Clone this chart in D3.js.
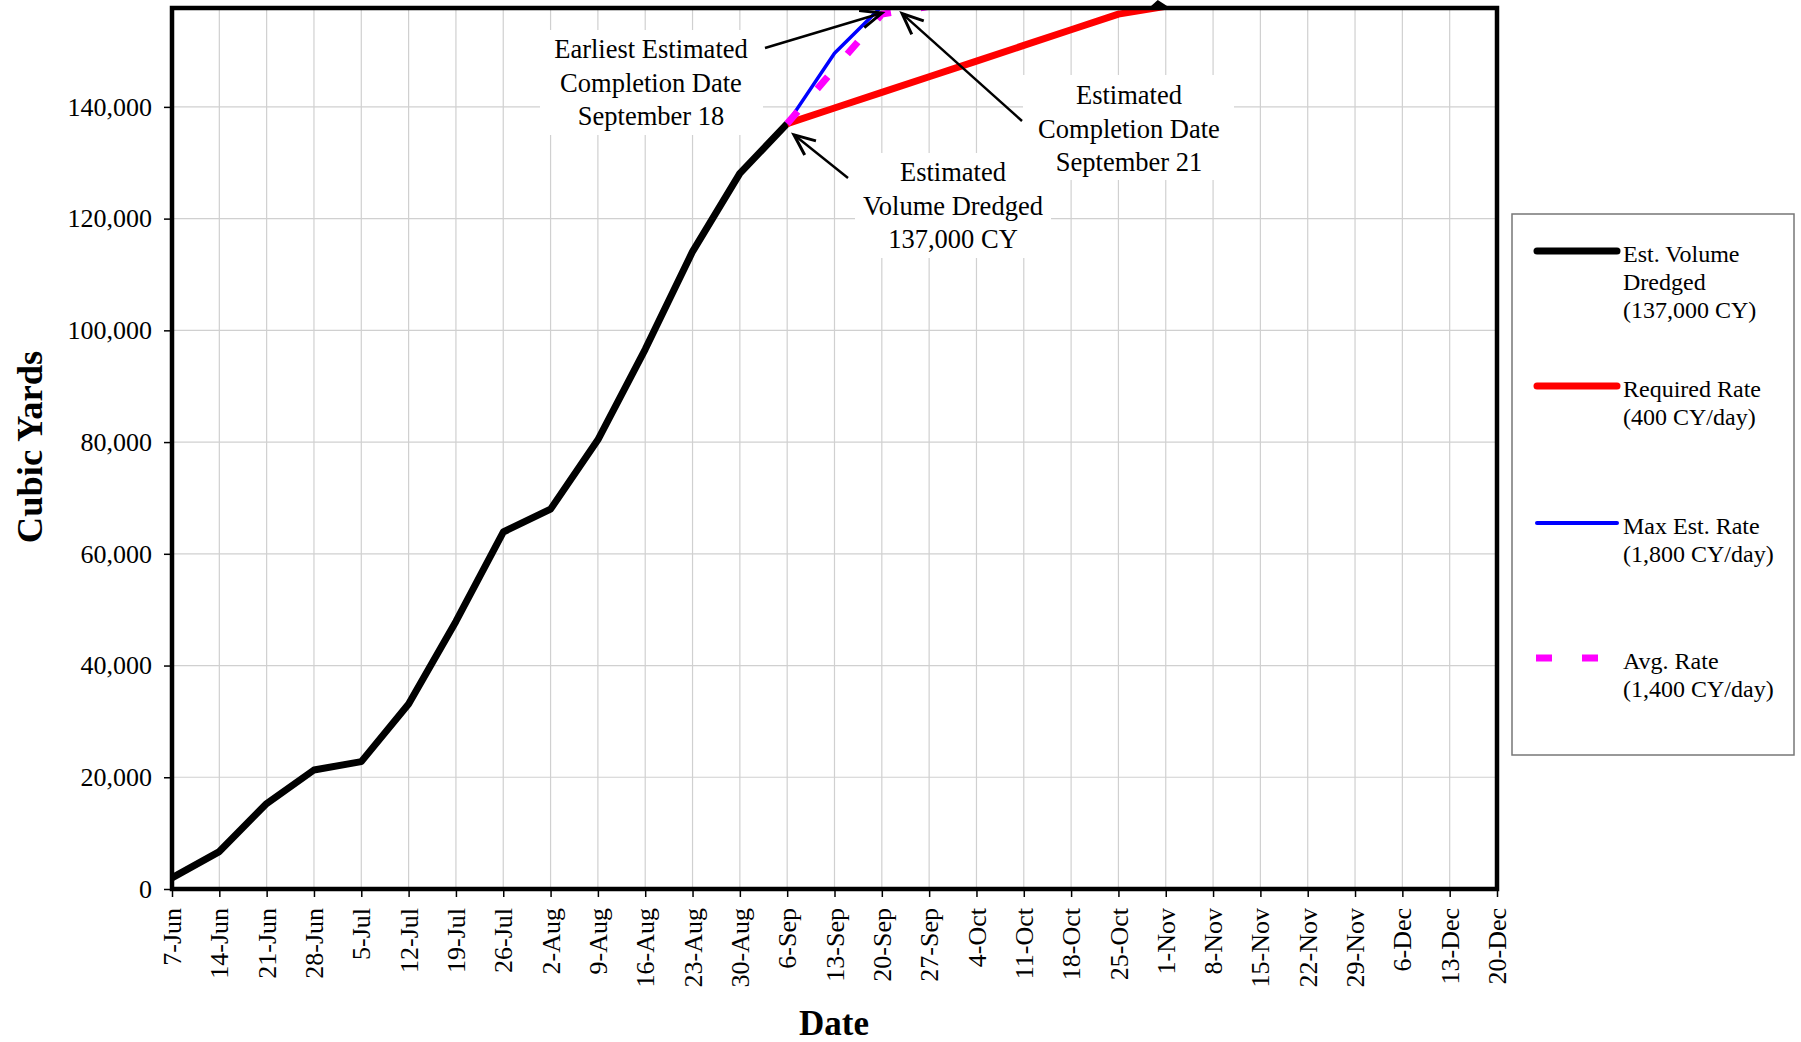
<!DOCTYPE html>
<html>
<head>
<meta charset="utf-8">
<script src="https://cdn.jsdelivr.net/npm/d3@7"></script>
<style>
  body { margin: 0; background: #fff; }
  svg text { font-family: "Liberation Serif", "Times New Roman", serif; fill: #000; }
</style>
</head>
<body>
<svg id="chart" width="1801" height="1042"></svg>
<script>
// weekly tick labels on the date axis
const weekLabels = ["7-Jun", "14-Jun", "21-Jun", "28-Jun", "5-Jul", "12-Jul", "19-Jul", "26-Jul",
  "2-Aug", "9-Aug", "16-Aug", "23-Aug", "30-Aug", "6-Sep", "13-Sep", "20-Sep", "27-Sep",
  "4-Oct", "11-Oct", "18-Oct", "25-Oct", "1-Nov", "8-Nov", "15-Nov", "22-Nov", "29-Nov",
  "6-Dec", "13-Dec", "20-Dec"]
const yTicks = [0, 20000, 40000, 60000, 80000, 100000, 120000, 140000]

// Est. Volume Dredged
const volumeDates = ["7-Jun", "14-Jun", "21-Jun", "28-Jun", "5-Jul", "12-Jul", "19-Jul", "26-Jul",
  "2-Aug", "9-Aug", "16-Aug", "23-Aug", "30-Aug", "6-Sep"]
const volume = [2000, 6700, 15300, 21300, 22800, 33100, 47900, 63900,
  68000, 80400, 96600, 114100, 128100, 137000]

// Required Rate (400 CY/day)
const requiredDates = ["6-Sep", "13-Sep", "20-Sep", "27-Sep", "4-Oct", "11-Oct", "18-Oct", "25-Oct", "1-Nov"]
const required = [137000, 139800, 142600, 145400, 148200, 151000, 153800, 156600, 158000]

// Max Est. Rate (1,800 CY/day)
const maxDates = ["6-Sep", "13-Sep", "20-Sep"]
const maxRate = [137000, 149600, 158000]

// Avg. Rate (1,400 CY/day)
const avgDates = ["6-Sep", "13-Sep", "20-Sep", "27-Sep"]
const avgRate = [137000, 146800, 156600, 158000]

const parse = s => d3.utcParse("%d-%b-%Y")(s + "-2004")
const fmtDay = d3.utcFormat("%-d-%b")

const svg = d3.select("#chart")
const plotLeft = 172, plotRight = 1497, plotTop = 8, plotBottom = 889

const x = d3.scaleUtc()
  .domain([parse(weekLabels[0]), parse(weekLabels[weekLabels.length - 1])])
  .range([plotLeft, plotRight])
const y = d3.scaleLinear()
  .domain([0, 157700])
  .range([plotBottom, plotTop])

const defs = svg.append("defs")
defs.append("clipPath").attr("id", "plotclip")
  .append("rect")
  .attr("x", plotLeft).attr("y", plotTop)
  .attr("width", plotRight - plotLeft).attr("height", plotBottom - plotTop)

// open arrowhead like the excel callouts
const marker = defs.append("marker")
  .attr("id", "arrow")
  .attr("markerUnits", "userSpaceOnUse")
  .attr("viewBox", "-26 -14 30 28")
  .attr("refX", 0).attr("refY", 0)
  .attr("markerWidth", 30).attr("markerHeight", 28)
  .attr("orient", "auto")
marker.append("path")
  .attr("d", "M-21,-9 L0,0 L-21,9")
  .attr("fill", "none").attr("stroke", "#000").attr("stroke-width", 3)
  .attr("stroke-linejoin", "miter")

// gridlines
svg.append("g").selectAll("line")
  .data(weekLabels.slice(1, -1))
  .enter().append("line")
  .attr("x1", d => x(parse(d))).attr("x2", d => x(parse(d)))
  .attr("y1", plotTop).attr("y2", plotBottom)
  .attr("stroke", "#d0d0d0").attr("stroke-width", 1.2)

svg.append("g").selectAll("line")
  .data(yTicks.slice(1))
  .enter().append("line")
  .attr("x1", plotLeft).attr("x2", plotRight)
  .attr("y1", d => y(d)).attr("y2", d => y(d))
  .attr("stroke", "#d0d0d0").attr("stroke-width", 1.2)

// annotation boxes (white, hide gridlines)
const notes = [
  { lines: ["Earliest Estimated", "Completion Date", "September 18"], cx: 651, box: [540, 30, 223, 105], base: 58,
    tail: [765, 48], tip: ["20-Sep", 156800] },
  { lines: ["Estimated", "Volume Dredged", "137,000 CY"], cx: 953, box: [855, 153, 196, 105], base: 181,
    tail: [848, 178], tip: ["7-Sep", 135000] },
  { lines: ["Estimated", "Completion Date", "September 21"], cx: 1129, box: [1023, 75, 211, 105], base: 104,
    tail: [1022, 121], tip: ["23-Sep", 156700] }
]

svg.append("g").selectAll("rect")
  .data(notes)
  .enter().append("rect")
  .attr("x", d => d.box[0]).attr("y", d => d.box[1])
  .attr("width", d => d.box[2]).attr("height", d => d.box[3])
  .attr("fill", "#fff")

// series
const line = d3.line()
  .x(d => x(parse(d[0])))
  .y(d => y(d[1]))

const plot = svg.append("g").attr("clip-path", "url(#plotclip)")

plot.append("path")
  .attr("d", line(d3.zip(volumeDates, volume)))
  .attr("fill", "none").attr("stroke", "#000").attr("stroke-width", 7)
  .attr("stroke-linejoin", "round")

plot.append("path")
  .attr("d", line(d3.zip(requiredDates, required)))
  .attr("fill", "none").attr("stroke", "#ff0000").attr("stroke-width", 7)
  .attr("stroke-linejoin", "round")

plot.append("path")
  .attr("d", line(d3.zip(maxDates, maxRate)))
  .attr("fill", "none").attr("stroke", "#0000ff").attr("stroke-width", 3.5)
  .attr("stroke-linejoin", "round")

plot.append("path")
  .attr("d", line(d3.zip(avgDates, avgRate)))
  .attr("fill", "none").attr("stroke", "#ff00ff").attr("stroke-width", 7)
  .attr("stroke-dasharray", "16,30")

// annotation text and arrows
notes.forEach(n => {
  const g = svg.append("g")
  g.selectAll("text")
    .data(n.lines)
    .enter().append("text")
    .attr("x", n.cx)
    .attr("y", (d, i) => n.base + i * 33.5)
    .attr("text-anchor", "middle")
    .style("font-size", "26.5px")
    .text(d => d)
  g.append("line")
    .attr("x1", n.tail[0]).attr("y1", n.tail[1])
    .attr("x2", x(parse(n.tip[0]))).attr("y2", y(n.tip[1]))
    .attr("stroke", "#000").attr("stroke-width", 2.5)
    .attr("marker-end", "url(#arrow)")
})

// clipped arrowhead peeking above the frame
const peek = x(parse("1-Nov"))
svg.append("path")
  .attr("d", `M${peek - 18},${plotTop + 1} L${peek - 8},${plotTop - 8} L${peek + 6},${plotTop + 1} Z`)
  .attr("fill", "#000")

// axes
const xAxis = d3.axisBottom(x)
  .tickValues(weekLabels.map(parse))
  .tickFormat(fmtDay)
  .tickSize(8)
  .tickPadding(11)

const gx = svg.append("g")
  .attr("transform", `translate(0,${plotBottom})`)
  .call(xAxis)
gx.select(".domain").remove()
gx.selectAll(".tick line").attr("stroke", "#000").attr("stroke-width", 1.5)
gx.selectAll(".tick text")
  .attr("transform", "rotate(-90)")
  .attr("x", -19).attr("y", 0).attr("dy", "0.33em")
  .attr("text-anchor", "end")
  .style("font-size", "26px")
  .style("font-family", "'Liberation Serif', serif")

const yAxis = d3.axisLeft(y)
  .tickValues(yTicks)
  .tickFormat(d3.format(","))
  .tickSize(8)
  .tickPadding(12)

const gy = svg.append("g")
  .attr("transform", `translate(${plotLeft},0)`)
  .call(yAxis)
gy.select(".domain").remove()
gy.selectAll(".tick line").attr("stroke", "#000").attr("stroke-width", 1.5)
gy.selectAll(".tick text")
  .style("font-size", "26px")
  .style("font-family", "'Liberation Serif', serif")

// plot frame
svg.append("rect")
  .attr("x", plotLeft).attr("y", plotTop)
  .attr("width", plotRight - plotLeft).attr("height", plotBottom - plotTop)
  .attr("fill", "none").attr("stroke", "#000").attr("stroke-width", 4.5)

// axis titles
svg.append("text")
  .attr("x", 834).attr("y", 1035)
  .attr("text-anchor", "middle")
  .style("font-size", "35px").style("font-weight", "bold")
  .text("Date")

svg.append("text")
  .attr("transform", "translate(42,447) rotate(-90)")
  .attr("text-anchor", "middle")
  .style("font-size", "36.5px").style("font-weight", "bold")
  .text("Cubic Yards")

// legend
const legendItems = [
  { lines: ["Est. Volume", "Dredged", "(137,000 CY)"], color: "#000", width: 7, y: 251 },
  { lines: ["Required Rate", "(400 CY/day)"], color: "#ff0000", width: 7, y: 386 },
  { lines: ["Max Est. Rate", "(1,800 CY/day)"], color: "#0000ff", width: 4, y: 523 },
  { lines: ["Avg. Rate", "(1,400 CY/day)"], color: "#ff00ff", width: 7, y: 658, dash: true }
]

const legend = svg.append("g")
legend.append("rect")
  .attr("x", 1512).attr("y", 214)
  .attr("width", 282).attr("height", 541)
  .attr("fill", "#fff").attr("stroke", "#777").attr("stroke-width", 1.5)

legendItems.forEach(item => {
  const g = legend.append("g")
  g.append("line")
    .attr("x1", item.dash ? 1536 : 1537).attr("x2", item.dash ? 1598 : 1617)
    .attr("y1", item.y).attr("y2", item.y)
    .attr("stroke", item.color).attr("stroke-width", item.width)
    .attr("stroke-linecap", item.dash ? "butt" : "round")
    .attr("stroke-dasharray", item.dash ? "16,30" : null)
  g.selectAll("text")
    .data(item.lines)
    .enter().append("text")
    .attr("x", 1623)
    .attr("y", (d, i) => item.y + 11 + i * 28)
    .style("font-size", "24px")
    .text(d => d)
})
</script>
</body>
</html>
